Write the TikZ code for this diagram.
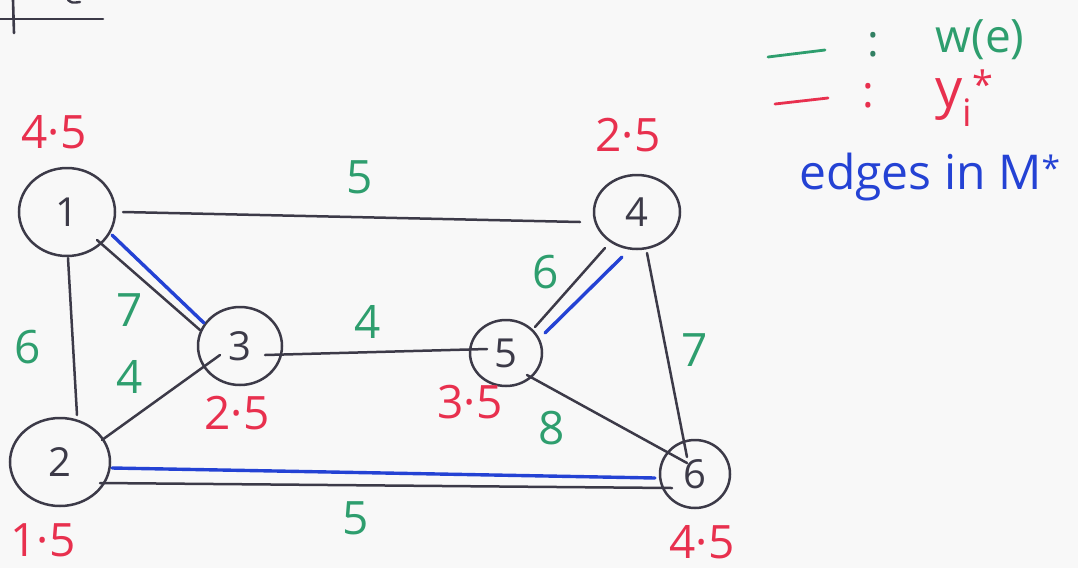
\documentclass[tikz,border=0pt]{standalone}
\usepackage{fontspec}
\setmainfont{Open Sans}
\usetikzlibrary{shapes.geometric}
\definecolor{ink}{HTML}{3C3A48}
\definecolor{wgreen}{HTML}{2E9E6E}
\definecolor{yred}{HTML}{E8304E}
\definecolor{mblue}{HTML}{2442D4}
\definecolor{bg}{HTML}{F8F8F8}
\begin{document}
\begin{tikzpicture}[x=1pt,y=-1pt,
  vtx/.style={draw=ink, line width=2.5pt, ellipse, inner sep=0pt, text=ink,
              font=\fontsize{40}{40}\selectfont},
  edge/.style={draw=ink, line width=2.5pt, line cap=round},
  medge/.style={draw=mblue, line width=3.4pt, line cap=round},
  wt/.style={text=wgreen, font=\fontsize{46}{46}\selectfont},
  yv/.style={text=yred, font=\fontsize{46}{46}\selectfont}]
\fill[bg] (0,0) rectangle (1078,568);
\useasboundingbox (0,0) rectangle (1078,568);

% fragment at top left
\draw[ink, line width=2.6pt, line cap=round] (13,0) -- (14,33);
\draw[ink, line width=2.6pt, line cap=round] (0,19) -- (103,19);
\draw[ink, line width=2.4pt, line cap=round] (68,0) .. controls (72,3) .. (80,2);

% vertices
\node[vtx, minimum width=96pt, minimum height=88pt] (n1) at (67,212) {1};
\node[vtx, minimum width=100pt, minimum height=88pt] (n2) at (60,462) {2};
\node[vtx, minimum width=84pt, minimum height=78pt] (n3) at (240,346) {3};
\node[vtx, minimum width=86pt, minimum height=74pt] (n4) at (637,212) {4};
\node[vtx, minimum width=72pt, minimum height=66pt] (n5) at (506,353) {5};
\node[vtx, minimum width=70pt, minimum height=68pt] (n6) at (695,474) {6};

% edges
\draw[edge] ([shift={(56,0)}]n1.center) -- ([shift={(-57,10)}]n4.center);
\draw[edge] ([shift={(1,46)}]n1.center) -- ([shift={(17,-47)}]n2.center);
\draw[edge] ([shift={(30,28)}]n1.center) -- ([shift={(-40,-16)}]n3.center);
\draw[medge] ([shift={(45,23)}]n1.center) -- ([shift={(-36,-23)}]n3.center);
\draw[edge] ([shift={(42,-22)}]n2.center) -- ([shift={(-20,9)}]n3.center);
\draw[edge] ([shift={(25,9)}]n3.center) -- ([shift={(-19,-4)}]n5.center);
\draw[edge] ([shift={(-32,36)}]n4.center) -- ([shift={(29,-26)}]n5.center);
\draw[medge] ([shift={(-15,45)}]n4.center) -- ([shift={(39,-20)}]n5.center);
\draw[edge] ([shift={(10,41)}]n4.center) -- ([shift={(-8,-17)}]n6.center);
\draw[edge] ([shift={(21,22)}]n5.center) -- ([shift={(-8,-11)}]n6.center);
\draw[medge] ([shift={(52,6)}]n2.center) -- ([shift={(-40,4)}]n6.center);
\draw[edge] ([shift={(40,21)}]n2.center) -- ([shift={(-23,14)}]n6.center);

% weights w(e)
\node[wt] (w14) at (360,177) {5};
\node[wt] (w13) at (130,310) {7};
\node[wt] (w12) at (28,347) {6};
\node[wt] (w23) at (130,377) {4};
\node[wt] (w35) at (368,322) {4};
\node[wt] (w45) at (546,272) {6};
\node[wt] (w46) at (695,350) {7};
\node[wt] (w56) at (552,428) {8};
\node[wt] (w26) at (356,518) {5};

% duals y_i*
\node[yv] (y1) at (54,132) {4·5};
\node[yv] (y3) at (237,413) {2·5};
\node[yv] (y2) at (43,540) {1·5};
\node[yv] (y4) at (628,135) {2·5};
\node[yv] (y5) at (470,402) {3·5};
\node[yv] (y6) at (702,542) {4·5};

% legend
\draw[wgreen, line width=2.8pt, line cap=round] (768,57) -- (825,50);
\node[text=wgreen!70!ink, font=\fontsize{44}{44}\selectfont] (lc1) at (873,45) {:};
\node[text=wgreen, font=\fontsize{46}{46}\selectfont] (lw) at (980,40) {w(e)};
\draw[yred, line width=2.8pt, line cap=round] (775,104) -- (828,98);
\node[text=yred, font=\fontsize{44}{44}\selectfont] (lc2) at (868,96) {:};
\node[text=yred, font=\fontsize{54}{54}\selectfont, inner sep=0pt] (ly) at (965,98)
  {y\textsubscript{i}\textsuperscript{*}};
\node[text=mblue, font=\fontsize{48}{48}\selectfont] (lm) at (930,177) {edges in M\textsuperscript{*}};
\end{tikzpicture}
\end{document}
